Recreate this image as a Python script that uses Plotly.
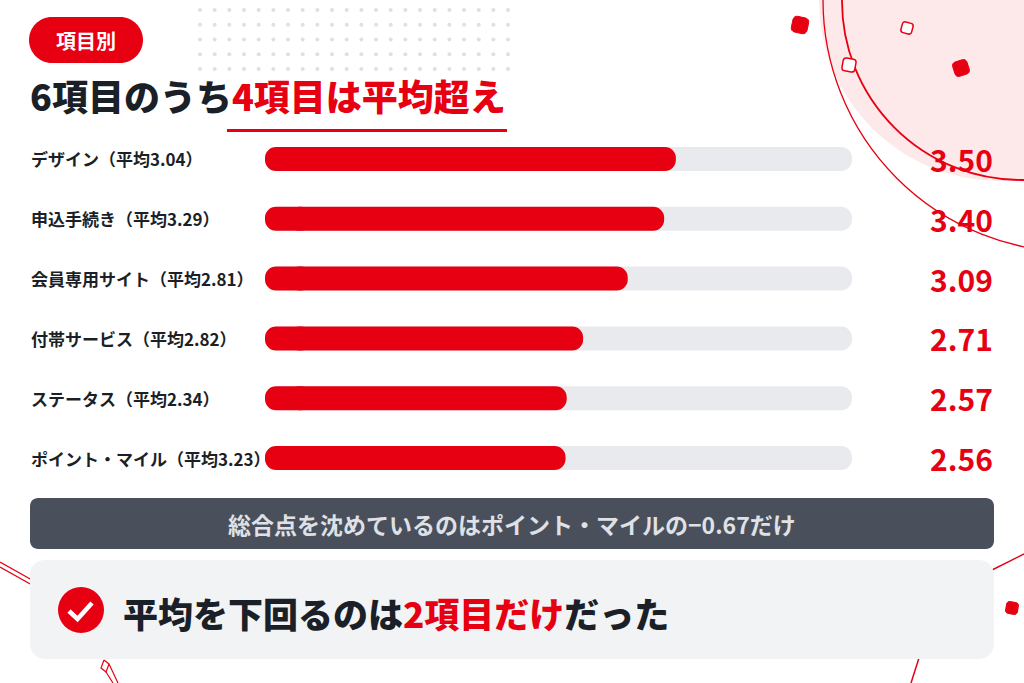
import math
import plotly.graph_objects as go

# ---------------- data ----------------
categories = ["デザイン", "申込手続き", "会員専用サイト", "付帯サービス", "ステータス", "ポイント・マイル"]
averages = [3.04, 3.29, 2.81, 2.82, 2.34, 3.23]
scores = [3.50, 3.40, 3.09, 2.71, 2.57, 2.56]
scale_max = 5

badge_text = "項目別"
title_plain = "6項目のうち"
title_red = "4項目は平均超え"
note_text = "総合点を沈めているのはポイント・マイルの−0.67だけ"
concl_plain1 = "平均を下回るのは"
concl_red = "2項目だけ"
concl_plain2 = "だった"

# ---------------- style ----------------
W, H = 1024, 683
RED = "#e60012"
DARK = "#1b1f27"
TRACK = "#e9eaee"
PINK = "#fde8ea"
FONT = "Noto Sans CJK JP"
CAP = 0.2  # width (in axis units) of the left rounded cap piece


def px(x):
    return x / W


def py(y):
    return 1 - y / H


def fmt(x, y):
    return f"{px(x):.6f},{py(y):.6f}"


K = 0.5523


def rrect_local(x0, y0, x1, y1, r):
    k = K * r
    return [
        ("M", [(x0 + r, y0)]),
        ("L", [(x1 - r, y0)]),
        ("C", [(x1 - r + k, y0), (x1, y0 + r - k), (x1, y0 + r)]),
        ("L", [(x1, y1 - r)]),
        ("C", [(x1, y1 - r + k), (x1 - r + k, y1), (x1 - r, y1)]),
        ("L", [(x0 + r, y1)]),
        ("C", [(x0 + r - k, y1), (x0, y1 - r + k), (x0, y1 - r)]),
        ("L", [(x0, y0 + r)]),
        ("C", [(x0, y0 + r - k), (x0 + r - k, y0), (x0 + r, y0)]),
        ("Z", []),
    ]


def to_path(segs, cx=0, cy=0, ang=0):
    a = math.radians(ang)
    ca, sa = math.cos(a), math.sin(a)
    out = []
    for cmd, pts in segs:
        s = cmd
        for (x, y) in pts:
            rx = cx + x * ca - y * sa
            ry = cy + x * sa + y * ca
            s += " " + fmt(rx, ry)
        out.append(s)
    return " ".join(out)


shapes = []


def add_rrect(x0, y0, x1, y1, r, fill, line=None, lw=0):
    shapes.append(dict(type="path", xref="paper", yref="paper",
                       path=to_path(rrect_local(x0, y0, x1, y1, r)),
                       fillcolor=fill, line=dict(color=line or fill, width=lw),
                       layer="below"))


def add_square(cx, cy, s, ang, fill, line, lw):
    r = s * 0.25
    segs = rrect_local(-s / 2, -s / 2, s / 2, s / 2, r)
    shapes.append(dict(type="path", xref="paper", yref="paper",
                       path=to_path(segs, cx, cy, ang),
                       fillcolor=fill, line=dict(color=line, width=lw),
                       layer="below"))


def add_circle(cx, cy, r, fill=None, line=None, lw=0):
    shapes.append(dict(type="circle", xref="paper", yref="paper",
                       x0=px(cx - r), x1=px(cx + r), y0=py(cy + r), y1=py(cy - r),
                       fillcolor=fill or "rgba(0,0,0,0)",
                       line=dict(color=line or "rgba(0,0,0,0)", width=lw),
                       layer="below"))


def add_line(pts, color, lw):
    p = "M " + fmt(*pts[0]) + " " + " ".join("L " + fmt(*q) for q in pts[1:])
    shapes.append(dict(type="path", xref="paper", yref="paper", path=p,
                       line=dict(color=color, width=lw), layer="below"))


# ---- decorations top right ----
add_circle(1000, 0, 181, fill=PINK)
add_circle(1021, 1, 179, line=RED, lw=1.8)
add_circle(1075, 0, 252, line=RED, lw=1.3)
add_square(800, 25, 16, 12, RED, RED, 1)
add_square(961, 68, 15, -18, RED, RED, 1)
add_square(907, 28, 11, 15, "white", RED, 1.5)
add_square(849, 65, 13, 10, "white", RED, 1.5)

# dotted grid
for r in range(5):
    for c in range(22):
        cx = 200 + c * 14.67
        cy = 10 + r * 14.75
        add_circle(cx, cy, 2.0, fill="#dfe0e5")

# bottom decorations
add_line([(0, 562), (32, 580)], RED, 1.3)
add_line([(0, 567), (32, 585)], RED, 1.3)
add_line([(1024, 554), (990, 571)], RED, 1.5)
add_line([(919, 658), (911, 683)], RED, 1.5)
add_square(1012, 608, 12, 10, RED, RED, 1)
add_line([(104, 660), (101, 668), (106, 672), (109, 664), (104, 660)], RED, 1.2)
add_line([(106, 672), (113, 683)], RED, 1.2)
add_line([(109, 664), (118, 683)], RED, 1.2)

# badge
add_rrect(29, 17, 143, 63, 23, RED)
# title underline
shapes.append(dict(type="line", xref="paper", yref="paper",
                   x0=px(227), x1=px(507), y0=py(130.5), y1=py(130.5),
                   line=dict(color=RED, width=3), layer="below"))

# note boxes
add_rrect(30, 498, 994, 549, 8, "#4a505b")
add_rrect(30, 560, 994, 659, 15, "#f2f3f5")
add_circle(81, 610, 23, fill=RED)
shapes.append(dict(type="path", xref="paper", yref="paper",
                   path="M " + fmt(69, 611) + " L " + fmt(77.5, 619) + " L " + fmt(92, 603),
                   line=dict(color="white", width=4.5), layer="above"))

# ---------------- bars ----------------
fig = go.Figure()
common = dict(y=categories, orientation="h", hoverinfo="skip", showlegend=False)


def pill(values, color):
    # main piece: rounded at its far end
    fig.add_trace(go.Bar(x=[v - CAP for v in values], base=[CAP] * len(values),
                         marker=dict(color=color, cornerradius=11, line=dict(width=0)), **common))
    # left cap piece: negative bar so its rounded tip sits at zero
    fig.add_trace(go.Bar(x=[-2 * CAP] * len(values), base=[2 * CAP] * len(values),
                         marker=dict(color=color, cornerradius=11, line=dict(width=0)), **common))


pill([scale_max] * len(categories), TRACK)
pill(scores, RED)

annotations = []
for cat, avg, s in zip(categories, averages, scores):
    annotations.append(dict(xref="paper", yref="y", x=px(29), y=cat, xanchor="left", yanchor="middle",
                            text=f"{cat}（平均{avg:.2f}）", showarrow=False,
                            font=dict(family=FONT, size=17, color=DARK, weight="bold")))
    annotations.append(dict(xref="paper", yref="y", x=px(995), y=cat, xanchor="right", yanchor="middle",
                            text=f"{s:.2f}", showarrow=False,
                            font=dict(family=FONT, size=30, color=RED, weight="bold")))

annotations.append(dict(xref="paper", yref="paper", x=px(86), y=py(40), xanchor="center", yanchor="middle",
                        text=badge_text, showarrow=False,
                        font=dict(family=FONT, size=20, color="white", weight="bold")))
annotations.append(dict(xref="paper", yref="paper", x=px(28), y=py(95), xanchor="left", yanchor="middle",
                        text=f"{title_plain}<span style='color:{RED}'>{title_red}</span>", showarrow=False,
                        font=dict(family=FONT, size=36, color=DARK, weight=900)))
annotations.append(dict(xref="paper", yref="paper", x=px(512), y=py(524), xanchor="center", yanchor="middle",
                        text=note_text, showarrow=False,
                        font=dict(family=FONT, size=23, color="#dfe1e6", weight="bold")))
annotations.append(dict(xref="paper", yref="paper", x=px(121), y=py(612), xanchor="left", yanchor="middle",
                        text=f"{concl_plain1}<span style='color:{RED}'>{concl_red}</span>{concl_plain2}",
                        showarrow=False,
                        font=dict(family=FONT, size=35, color=DARK, weight=900)))

fig.update_layout(
    width=W, height=H,
    margin=dict(l=0, r=0, t=0, b=0),
    paper_bgcolor="white", plot_bgcolor="rgba(0,0,0,0)",
    barmode="overlay", bargap=0.6,
    xaxis=dict(domain=[px(265), px(852)], range=[0, scale_max], visible=False, fixedrange=True),
    yaxis=dict(domain=[py(488), py(129)], type="category", categoryorder="array", categoryarray=categories,
               range=[len(categories) - 0.5, -0.5], visible=False, fixedrange=True),
    shapes=shapes,
    annotations=annotations,
)

fig.write_html("out.html", config={"displayModeBar": False},
               post_script="document.body.style.margin='0';document.body.style.overflow='hidden';")
